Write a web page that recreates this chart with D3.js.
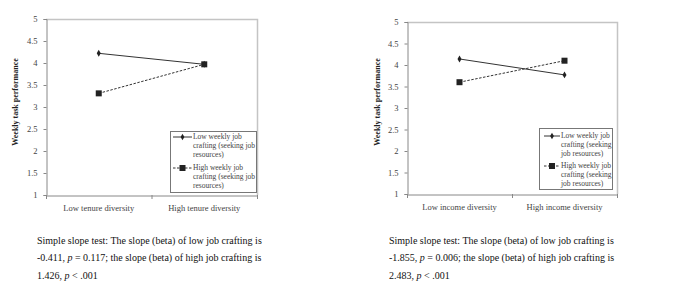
<!DOCTYPE html>
<html>
<head>
<meta charset="utf-8">
<script src="https://cdn.jsdelivr.net/npm/d3@7"></script>
<style>
  body { margin: 0; background: #fff; }
  svg { display: block; font-family: "Liberation Serif", "Times New Roman", serif; }
  .tick text { fill: #444; font-size: 8.5px; font-family: "Liberation Serif", "Times New Roman", serif; }
  .ytitle { font-size: 8px; font-weight: bold; fill: #222; }
  .legend text { font-size: 7.5px; fill: #444; }
  .caption { font-size: 10px; fill: #111; }
</style>
</head>
<body>
<svg class="scene" width="685" height="281"></svg>
<script>

//
// data
//

var y_ticks = [1, 1.5, 2, 2.5, 3, 3.5, 4, 4.5, 5];

var tenure_categories = ["Low tenure diversity", "High tenure diversity"];
var tenure_low_crafting = [4.22, 3.97];
var tenure_high_crafting = [3.31, 3.97];

var income_categories = ["Low income diversity", "High income diversity"];
var income_low_crafting = [4.14, 3.77];
var income_high_crafting = [3.60, 4.10];

var tenure_legend = [
    ["Low weekly job", "crafting (seeking job", "resources)"],
    ["High weekly job", "crafting (seeking job", "resources)"]
];
var income_legend = [
    ["Low weekly job", "crafting (seeking", "job resources)"],
    ["High weekly job", "crafting (seeking", "job resources)"]
];

var tenure_caption = [
    "Simple slope test: The slope (beta) of low job crafting is",
    ["-0.411, ", "p", " = 0.117; the slope (beta) of high job crafting is"],
    ["1.426, ", "p", " < .001"]
];
var income_caption = [
    "Simple slope test: The slope (beta) of low job crafting is",
    ["-1.855, ", "p", " = 0.006; the slope (beta) of high job crafting is"],
    ["2.483, ", "p", " < .001"]
];

var scene = d3.select(".scene");

//
// one panel
//

function draw_panel(p) {
    var g = scene.append("g");

    var x = d3.scaleBand().domain(p.categories).range([p.left, p.right]);
    var y = d3.scaleLinear().domain([1, 5]).range([p.bottom, p.top]);

    // frame (top and right, light gray)
    g.append("path")
        .attr("d", "M" + p.left + "," + (p.top + 0.5) + "H" + (p.right + 0.5) + "V" + p.bottom)
        .attr("fill", "none")
        .attr("stroke", "#c4c4c4")
        .attr("stroke-width", 1.5);

    // y axis
    var ya = g.append("g")
        .attr("transform", "translate(" + (p.left + 0.5) + ",0)")
        .call(d3.axisLeft(y).tickValues(y_ticks).tickSize(3).tickPadding(6)
            .tickFormat(function (d) { return String(d); }));
    ya.selectAll("path, line").attr("stroke", "#888");

    // x axis, ticks at band edges
    var xa = g.append("g")
        .attr("transform", "translate(0," + (p.bottom + 0.5) + ")")
        .call(d3.axisBottom(x).tickSize(0).tickPadding(9));
    xa.select("path").attr("stroke", "#888");
    xa.selectAll(".tick line").remove();
    [p.left, x(p.categories[1]), p.right].forEach(function (v) {
        g.append("line")
            .attr("x1", v + 0.5).attr("x2", v + 0.5)
            .attr("y1", p.bottom).attr("y2", p.bottom + 4)
            .attr("stroke", "#888");
    });

    // y title
    g.append("text")
        .attr("class", "ytitle")
        .attr("transform", "translate(" + p.title_x + "," + p.title_y + ") rotate(-90)")
        .attr("text-anchor", "middle")
        .attr("dy", "0.35em")
        .text("Weekly task performance");

    var cx = function (d, i) { return x(p.categories[i]) + x.bandwidth() / 2; };
    var line = d3.line().x(cx).y(function (d) { return y(d); });

    // low crafting: solid, small diamond
    g.append("path")
        .attr("d", line(p.low))
        .attr("fill", "none").attr("stroke", "#333").attr("stroke-width", 1);
    g.selectAll(".dlow").data(p.low).enter().append("path")
        .attr("transform", function (d, i) { return "translate(" + cx(d, i) + "," + y(d) + ")"; })
        .attr("d", d3.symbol(d3.symbolDiamond, 14)())
        .attr("fill", "#222");

    // high crafting: dashed, square
    g.append("path")
        .attr("d", line(p.high))
        .attr("fill", "none").attr("stroke", "#333").attr("stroke-width", 1)
        .attr("stroke-dasharray", "2.5,1.5");
    g.selectAll(".dhigh").data(p.high).enter().append("rect")
        .attr("x", function (d, i) { return cx(d, i) - 3; })
        .attr("y", function (d) { return y(d) - 3; })
        .attr("width", 6).attr("height", 6)
        .attr("fill", "#222");

    // legend
    var lg = g.append("g").attr("class", "legend");
    lg.append("rect")
        .attr("x", p.leg.x + 0.5).attr("y", p.leg.y + 0.5)
        .attr("width", p.leg.w).attr("height", p.leg.h)
        .attr("fill", "#fff").attr("stroke", "#777");
    p.legend.forEach(function (lines, k) {
        var ly = p.leg.y + p.leg.rows[k];
        lg.append("line")
            .attr("x1", p.leg.lx0).attr("x2", p.leg.lx1)
            .attr("y1", ly).attr("y2", ly)
            .attr("stroke", "#333")
            .attr("stroke-dasharray", k === 0 ? null : "2.5,1.5");
        var mx = (p.leg.lx0 + p.leg.lx1) / 2;
        if (k === 0) {
            lg.append("path")
                .attr("transform", "translate(" + mx + "," + ly + ")")
                .attr("d", d3.symbol(d3.symbolDiamond, 12)())
                .attr("fill", "#222");
        } else {
            lg.append("rect")
                .attr("x", mx - 3).attr("y", ly - 3)
                .attr("width", 6).attr("height", 6)
                .attr("fill", "#222");
        }
        lines.forEach(function (s, j) {
            lg.append("text")
                .attr("x", p.leg.tx)
                .attr("y", ly + j * 8.6)
                .attr("dy", "0.33em")
                .text(s);
        });
    });

    // caption
    p.caption.forEach(function (c, j) {
        var t = g.append("text")
            .attr("class", "caption")
            .attr("x", p.cap_x)
            .attr("y", p.cap_y + j * 17.5);
        if (typeof c === "string") {
            t.text(c);
        } else {
            c.forEach(function (s, k) {
                t.append("tspan")
                    .attr("font-style", k === 1 ? "italic" : null)
                    .text(s);
            });
        }
    });
}

draw_panel({
    categories: tenure_categories,
    low: tenure_low_crafting,
    high: tenure_high_crafting,
    legend: tenure_legend,
    caption: tenure_caption,
    left: 46, right: 257, top: 19, bottom: 195,
    title_x: 15, title_y: 102,
    leg: { x: 170, y: 131, w: 86, h: 61, rows: [6, 37], lx0: 173, lx1: 192, tx: 193 },
    cap_x: 37, cap_y: 243.5
});

draw_panel({
    categories: income_categories,
    low: income_low_crafting,
    high: income_high_crafting,
    legend: income_legend,
    caption: income_caption,
    left: 407, right: 617, top: 22, bottom: 194,
    title_x: 377, title_y: 102,
    leg: { x: 539, y: 128, w: 73, h: 61, rows: [8, 38], lx0: 544, lx1: 560, tx: 561 },
    cap_x: 389, cap_y: 243.5
});

</script>
</body>
</html>
